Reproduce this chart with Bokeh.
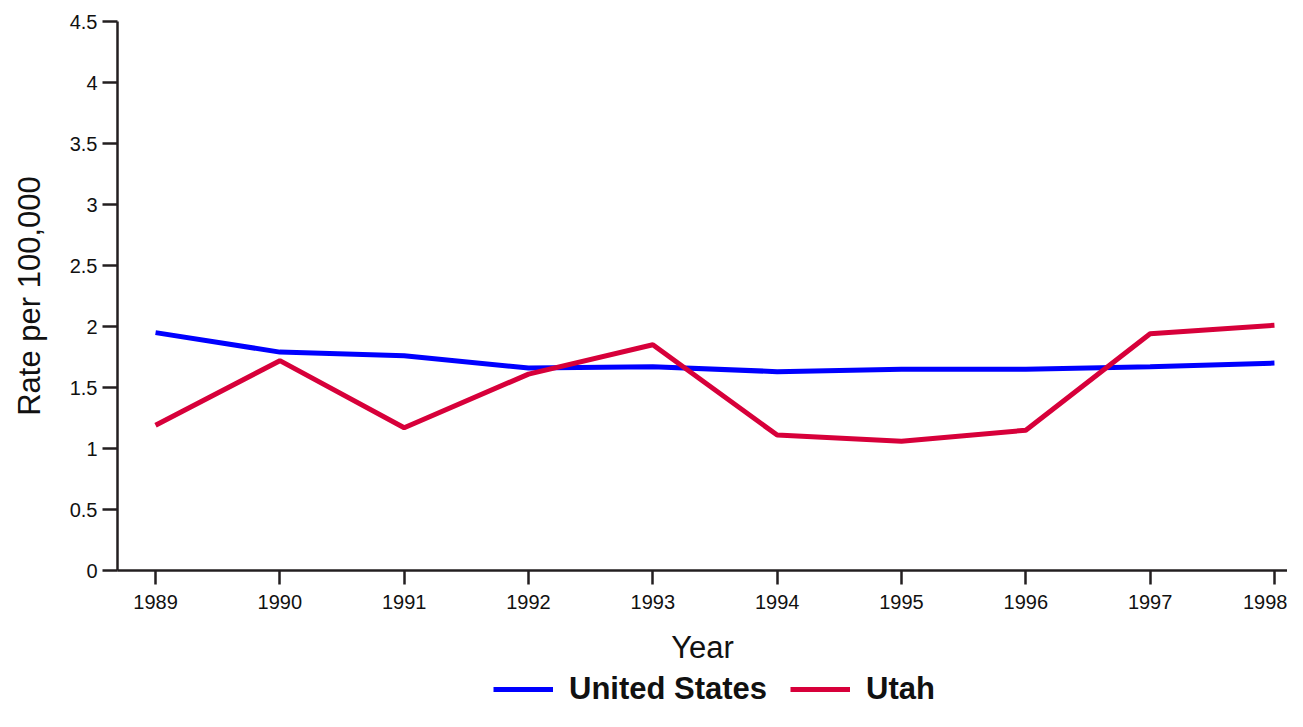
from bokeh.plotting import figure
from bokeh.models import Range1d, FixedTicker, Legend, LegendItem
from bokeh.layouts import column
from bokeh.embed import file_html
from bokeh.resources import INLINE

years = [1989, 1990, 1991, 1992, 1993, 1994, 1995, 1996, 1997, 1998]
us_rate = [1.95, 1.79, 1.76, 1.66, 1.67, 1.63, 1.65, 1.65, 1.67, 1.70]
utah_rate = [1.19, 1.72, 1.17, 1.61, 1.85, 1.11, 1.06, 1.15, 1.94, 2.01]
y_ticks = [0, 0.5, 1, 1.5, 2, 2.5, 3, 3.5, 4, 4.5]
series_names = ["United States", "Utah"]
series_colors = ["#0000ff", "#d7003a"]

FONT = "Liberation Sans"
AX = "#231f20"
LW = 5

p = figure(width=1287, height=668, output_backend="svg", toolbar_location=None,
           x_range=Range1d(1988.694, 1998.105), y_range=Range1d(0, 4.5),
           min_border_top=21, min_border_right=0, min_border_left=117,
           min_border_bottom=98)
p.outline_line_color = None
p.grid.visible = False
p.background_fill_color = "white"

p.line(years, us_rate, line_color=series_colors[0], line_width=LW)
p.line(years, utah_rate, line_color=series_colors[1], line_width=LW)

for ax in (p.xaxis[0], p.yaxis[0]):
    ax.axis_line_color = AX
    ax.axis_line_width = 2.5
    ax.major_tick_line_color = AX
    ax.major_tick_line_width = 2.5
    ax.major_tick_in = 0
    ax.minor_tick_line_color = None
    ax.major_label_text_font = FONT
    ax.major_label_text_font_size = "20px"
    ax.major_label_text_color = "#111111"
    ax.axis_label_text_font = FONT
    ax.axis_label_text_font_size = "31px"
    ax.axis_label_text_font_style = "normal"
    ax.axis_label_text_color = "#111111"

p.xaxis.ticker = FixedTicker(ticks=years)
p.xaxis.major_tick_out = 14
p.xaxis.major_label_standoff = 10
p.xaxis.axis_label = "Year"
p.xaxis.axis_label_standoff = 18

p.yaxis.ticker = FixedTicker(ticks=y_ticks)
p.yaxis.major_label_overrides = {0: "0", 1: "1", 2: "2", 3: "3", 4: "4"}
p.yaxis.major_tick_out = 15
p.yaxis.major_label_standoff = 5
p.yaxis.axis_label = "Rate per 100,000"
p.yaxis.axis_label_standoff = 20

# legend strip below the chart (its frame is aligned with the chart's frame)
lg = figure(width=1287, height=43, output_backend="svg", toolbar_location=None,
            x_range=Range1d(0, 1), y_range=Range1d(0, 1),
            min_border=0, min_border_left=117)
lg.axis.visible = False
lg.grid.visible = False
lg.outline_line_color = None
items = []
for name, col in zip(series_names, series_colors):
    # off-range sample line: only its legend swatch is visible
    r = lg.line(x=[-5, -4], y=[-5, -5], line_color=col, line_width=LW)
    items.append(LegendItem(label=name, renderers=[r]))

legend = Legend(items=items, orientation="horizontal", location=(376, 4),
                label_text_font=FONT, label_text_font_size="31px",
                label_text_font_style="bold", label_text_color="#111111",
                label_text_baseline="middle",
                glyph_width=60, glyph_height=20, label_standoff=16, spacing=23,
                border_line_color=None, background_fill_alpha=0,
                padding=0, margin=0)
lg.add_layout(legend, "center")

open("out.html", "w").write(file_html(column(p, lg, spacing=0), INLINE))
